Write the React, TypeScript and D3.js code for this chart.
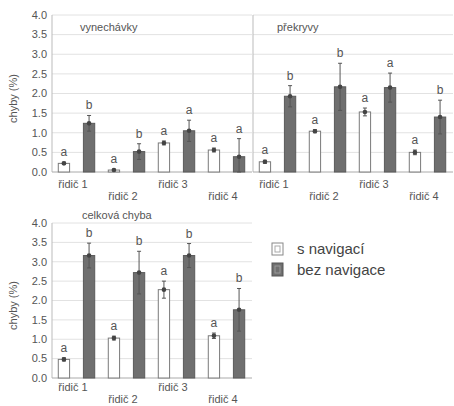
import React from 'react';
import { scaleBand, scaleLinear } from 'd3';

const drivers = ['řidič 1', 'řidič 2', 'řidič 3', 'řidič 4'];
const seriesNames = ['s navigací', 'bez navigace'];
const yTicks = [0, 0.5, 1, 1.5, 2, 2.5, 3, 3.5, 4];

// vynechávky
const omitWith = [0.22, 0.05, 0.74, 0.56];
const omitWithErr = [0.03, 0.02, 0.05, 0.05];
const omitWithout = [1.24, 0.52, 1.05, 0.39];
const omitWithoutErr = [0.2, 0.2, 0.27, 0.46];
const omitLetters = [['a', 'b'], ['a', 'b'], ['a', 'a'], ['a', 'a']];

// překryvy
const overWith = [0.26, 1.04, 1.53, 0.5];
const overWithErr = [0.04, 0.04, 0.1, 0.06];
const overWithout = [1.93, 2.17, 2.15, 1.4];
const overWithoutErr = [0.27, 0.6, 0.37, 0.43];
const overLetters = [['a', 'b'], ['a', 'b'], ['a', 'a'], ['a', 'b']];

// celková chyba
const totalWith = [0.48, 1.03, 2.28, 1.09];
const totalWithErr = [0.04, 0.05, 0.22, 0.07];
const totalWithout = [3.16, 2.72, 3.16, 1.76];
const totalWithoutErr = [0.32, 0.55, 0.31, 0.55];
const totalLetters = [['a', 'b'], ['a', 'b'], ['a', 'b'], ['a', 'b']];

const font = '"Liberation Sans", Arial, sans-serif';
const textCol = '#555';

type PanelProps = {
  title: string; titleX: number; titleY: number;
  x0: number; top: number; bottom: number;
  withV: number[]; withE: number[]; withoutV: number[]; withoutE: number[];
  letters: string[][]; showY: boolean; labelOff: number[];
};

const Panel = ({ title, titleX, titleY, x0, top, bottom, withV, withE, withoutV, withoutE, letters, showY, labelOff }: PanelProps) => {
  const x = scaleBand<string>().domain(drivers).range([x0, x0 + 200]).padding(0);
  const inner = scaleBand<string>().domain(seriesNames).range([0, 49]).paddingInner(0.55).paddingOuter(0.25);
  const y = scaleLinear().domain([0, 4]).range([bottom, top]);
  const bw = inner.bandwidth();
  return (
    <g>
      {yTicks.filter(t => t > 0).map(t => (
        <line key={t} x1={x0} x2={x0 + 200} y1={y(t)} y2={y(t)} stroke="#e2e2e2" strokeWidth={1} />
      ))}
      <line x1={x0} x2={x0} y1={top} y2={bottom} stroke="#bbb" />
      <line x1={x0} x2={x0 + 200} y1={bottom} y2={bottom} stroke="#aaa" />
      {showY && yTicks.map(t => (
        <text key={t} x={x0 - 5} y={y(t)} dy="0.35em" textAnchor="end" fontSize={11} fill={textCol}>{t.toFixed(1)}</text>
      ))}
      {showY && (
        <text transform={`translate(${x0 - 35},${(top + bottom) / 2 + 5}) rotate(-90)`} textAnchor="middle" fontSize={11} fill={textCol}>chyby (%)</text>
      )}
      <text x={titleX} y={titleY} fontSize={11} fill={textCol}>{title}</text>
      {drivers.map((d, i) => {
        const gx = x(d)!;
        const vals = [withV[i], withoutV[i]];
        const errs = [withE[i], withoutE[i]];
        return (
          <g key={d}>
            {seriesNames.map((s, j) => {
              const bx = gx + inner(s)!;
              const cx = bx + bw / 2;
              const v = vals[j];
              const e = errs[j];
              return (
                <g key={s}>
                  <rect x={bx} y={y(v)} width={bw} height={bottom - y(v)}
                    fill={j === 0 ? '#fff' : '#6f6f6f'} stroke={j === 0 ? '#7a7a7a' : '#5a5a5a'} strokeWidth={1} />
                  <line x1={cx} x2={cx} y1={y(Math.max(0, v - e))} y2={y(v + e)} stroke="#555" strokeWidth={1} />
                  <line x1={cx - 2} x2={cx + 2} y1={y(v + e)} y2={y(v + e)} stroke="#555" />
                  <line x1={cx - 2} x2={cx + 2} y1={y(Math.max(0, v - e))} y2={y(Math.max(0, v - e))} stroke="#555" />
                  <circle cx={cx} cy={y(v)} r={2.3} fill="#444" />
                  <text x={cx} y={y(v + e) - 6} textAnchor="middle" fontSize={12} fill={textCol}>{letters[i][j]}</text>
                </g>
              );
            })}
            <text x={gx + 21} y={bottom + labelOff[i % 2]} textAnchor="middle" fontSize={11} fill={textCol}>{d}</text>
          </g>
        );
      })}
    </g>
  );
};

const App = () => {
  return (
    <svg width={454} height={406} style={{ position: 'absolute', left: 0, top: 0, background: '#fff' }} fontFamily={font}>
      <rect width={454} height={406} fill="#fff" />
      <Panel title="vynechávky" titleX={80} titleY={31} x0={52} top={15} bottom={172}
        withV={omitWith} withE={omitWithErr} withoutV={omitWithout} withoutE={omitWithoutErr}
        letters={omitLetters} showY={true} labelOff={[16, 28]} />
      <Panel title="překryvy" titleX={277} titleY={31} x0={253} top={15} bottom={172}
        withV={overWith} withE={overWithErr} withoutV={overWithout} withoutE={overWithoutErr}
        letters={overLetters} showY={false} labelOff={[16, 28]} />
      <Panel title="celková chyba" titleX={82} titleY={219} x0={52} top={223} bottom={378}
        withV={totalWith} withE={totalWithErr} withoutV={totalWithout} withoutE={totalWithoutErr}
        letters={totalLetters} showY={true} labelOff={[13, 25]} />
      <g>
        <rect x={272} y={243} width={11} height={12} fill="#fff" stroke="#888" />
        <rect x={275} y={246} width={5} height={6} fill="#fff" stroke="#aaa" />
        <text x={297} y={254} fontSize={15} fill="#444">{seriesNames[0]}</text>
        <rect x={272} y={263} width={11} height={13} fill="#6f6f6f" stroke="#555" />
        <rect x={275} y={266} width={5} height={7} fill="#6f6f6f" stroke="#999" />
        <text x={297} y={275} fontSize={15} fill="#444">{seriesNames[1]}</text>
      </g>
    </svg>
  );
};

export default App;
